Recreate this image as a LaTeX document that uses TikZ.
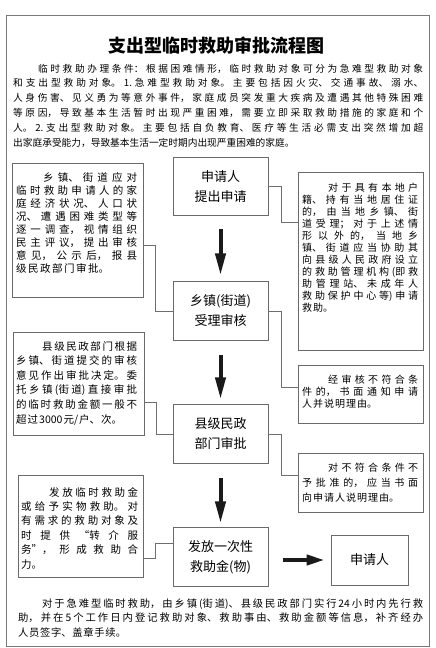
\documentclass[tikz,border=0pt]{standalone}
\usepackage{fontspec}
\setmainfont{Noto Sans CJK SC}
\usetikzlibrary{arrows.meta}
\definecolor{boxgray}{HTML}{6A6A6A}
\definecolor{conngray}{HTML}{6E6E6E}
\definecolor{framegray}{HTML}{7A7A7A}
\definecolor{arrowblack}{HTML}{1A1A1A}
\XeTeXlinebreaklocale "zh"
\XeTeXlinebreakskip=0pt plus 6pt
\newcommand\brk{\unskip\penalty-10000\relax}
% width, size, baselineskip, indent, natural inter-char glue, text
\newcommand\cpara[6]{%
  \vtop{\fontsize{#2}{#3}\selectfont\hsize=#1\relax\linewidth=\hsize
  \XeTeXlinebreakskip=#5 plus 8pt\relax
  \lineskiplimit=-100pt\lineskip=0pt\parindent=0pt\parfillskip=0pt plus 1fil\relax
  \leftskip=0pt\rightskip=0pt\tolerance=10000\pretolerance=-1\hbadness=10000\relax
  \noindent\hskip#4\relax #6\par}}
\begin{document}
\begin{tikzpicture}[x=1pt,y=-1pt,
  box/.style={draw=boxgray, line width=0.8pt, inner sep=0pt},
  mainbox/.style={box, minimum width=95pt, minimum height=58.5pt, align=center,
    font=\fontsize{13pt}{20pt}\selectfont},
  sidebox/.style={box},
  txt/.style={anchor=base west, inner sep=0pt},
  conn/.style={draw=conngray, line width=0.7pt},
  bigarrow/.style={draw=arrowblack, line width=4pt, -{Triangle[length=22pt,width=10pt]}},
  sidearrow/.style={draw=arrowblack, line width=4pt, -{Triangle[length=18pt,width=10pt]}}]
\fill[white] (0,0) rectangle (436,648);
\useasboundingbox (0,0) rectangle (436,648);
\draw[framegray, line width=0.9pt] (6,15) rectangle (429,646);

\node[font=\fontsize{18pt}{22pt}\selectfont\bfseries] (title) at (216,46) {支出型临时救助审批流程图};

\node[txt] (intro) at (13,72) {\cpara{410pt}{9.7pt}{14.8pt}{25pt}{0pt}{临时救助办理条件：根据困难情形，临时救助对象可分为急难型救助对象\brk
和支出型救助对象。1.急难型救助对象。主要包括因火灾、交通事故、溺水、\brk
人身伤害、见义勇为等意外事件，家庭成员突发重大疾病及遭遇其他特殊困难\brk
等原因，导致基本生活暂时出现严重困难，需要立即采取救助措施的家庭和个\brk
人。2.支出型救助对象。主要包括自负教育、医疗等生活必需支出突然增加超\brk
出家庭承受能力，导致基本生活一定时期内出现严重困难的家庭。}};

% main column
\node[mainbox] (B1) at (220.5,186.5) {申请人\\提出申请};
\node[mainbox] (B2) at (220.5,311) {乡镇(街道)\\受理审核};
\node[mainbox] (B3) at (220.5,434) {县级民政\\部门审批};
\node[mainbox] (B4) at (220.5,557) {发放一次性\\救助金(物)};
\node[box, minimum width=77pt, minimum height=50pt, font=\fontsize{13pt}{20pt}\selectfont] (B5) at (369.5,560) {申请人};

% left boxes
\node[sidebox, minimum width=131pt, minimum height=134pt] (L1) at (77.5,230) {};
\node[sidebox, minimum width=131pt, minimum height=103pt] (L2) at (78.5,383.5) {};
\node[sidebox, minimum width=125pt, minimum height=102pt] (L3) at (80.5,526) {};
% right boxes
\node[sidebox, minimum width=125pt, minimum height=178pt] (R1) at (360.5,261) {};
\node[sidebox, minimum width=125pt, minimum height=58pt] (R2) at (360.5,394) {};
\node[sidebox, minimum width=125pt, minimum height=59pt] (R3) at (360.5,482.5) {};

\node[txt] (L1t) at (16,181) {\cpara{121pt}{10.5pt}{13.1pt}{27pt}{1.5pt}{乡镇、街道应对\brk
临时救助申请人的家\brk
庭经济状况、人口状\brk
况、遭遇困难类型等\brk
逐一调查，视情组织\brk
民主评议，提出审核\brk
意见，公示后，报县\brk
级民政部门审批。}};

\node[txt] (L2t) at (16,350) {\cpara{121pt}{10.5pt}{14.6pt}{26pt}{1pt}{县级民政部门根据\brk
乡镇、街道提交的审核\brk
意见作出审批决定。委\brk
托乡镇(街道)直接审批\brk
的临时救助金额一般不\brk
超过3000元/户、次。}};

\node[txt] (L3t) at (21,496) {\cpara{117pt}{10.5pt}{14.4pt}{28pt}{1pt}{发放临时救助金\brk
或给予实物救助。对\brk
有需求的救助对象及\brk
时提供“转介服\brk
务”，形成救助合\brk
力。}};

\node[txt] (R1t) at (302,191) {\cpara{116pt}{10pt}{12pt}{26pt}{1pt}{对于具有本地户\brk
籍、持有当地居住证\brk
的，由当地乡镇、街\brk
道受理；对于上述情\brk
形以外的，当地乡\brk
镇、街道应当协助其\brk
向县级人民政府设立\brk
的救助管理机构(即救\brk
助管理站、未成年人\brk
救助保护中心等)申请\brk
救助。}};

\node[txt] (R2t) at (302,383) {\cpara{116pt}{10pt}{12pt}{26pt}{1pt}{经审核不符合条\brk
件的，书面通知申请\brk
人并说明理由。}};

\node[txt] (R3t) at (302,471) {\cpara{116pt}{10pt}{15pt}{26pt}{1pt}{对不符合条件不\brk
予批准的，应当书面\brk
向申请人说明理由。}};

\node[txt] (outro) at (18,607) {\cpara{405pt}{10.3pt}{14.5pt}{24pt}{0.7pt}{对于急难型临时救助，由乡镇(街道)、县级民政部门实行24小时内先行救\brk
助，并在5个工作日内登记救助对象、救助事由、救助金额等信息，补齐经办\brk
人员签字、盖章手续。}};

% arrows
\draw[bigarrow, shorten <=13pt, shorten >=6pt] (B1.south) -- (B2.north);
\draw[bigarrow, shorten <=14pt, shorten >=5pt] (B2.south) -- (B3.north);
\draw[bigarrow, shorten <=14pt, shorten >=4pt] (B3.south) -- (B4.north);
\draw[sidearrow, shorten <=15pt, shorten >=6pt] (B4.east |- B5.center) -- (B5.west);

% connectors
\draw[conn] ([yshift=-15pt]L1.east) -- ++(12,0) |- (B2.west);
\draw[conn] ([yshift=-18.5pt]L2.east) -- ++(12,0) |- (B3.west);
\draw[conn] ([yshift=-32pt]L3.east) -- ++(12,0) |- ([yshift=14pt]B4.west);
\draw[conn] (B1.east) -- ++(13,0) |- ([yshift=39pt]R1.west);
\draw[conn] (B2.east) -- ++(13,0) |- ([yshift=7pt]R2.west);
\draw[conn] (B3.east) -- ++(13,0) |- ([yshift=7.5pt]R3.west);
\end{tikzpicture}
\end{document}
